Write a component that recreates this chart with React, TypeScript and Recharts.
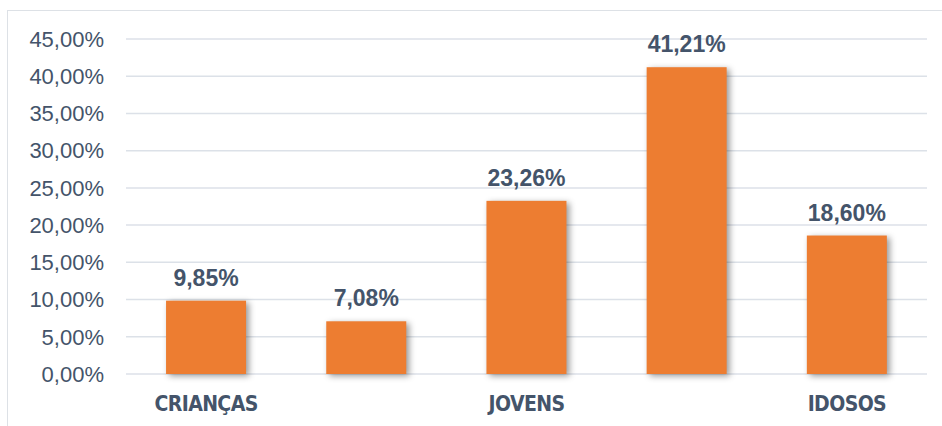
import { BarChart, Bar, XAxis, YAxis, CartesianGrid, LabelList } from 'recharts';

const categories = ['CRIANÇAS', '', 'JOVENS', '', 'IDOSOS'];
const shares = [9.85, 7.08, 23.26, 41.21, 18.6];
const yTicks = [0, 5, 10, 15, 20, 25, 30, 35, 40, 45];

const data = categories.map((name, i) => ({ name, value: shares[i] }));

const TEXT = '#44546A';
const BAR = '#ED7D31';

function pct(v: number) {
  return `${Number(v).toFixed(2).replace('.', ',')}%`;
}

function ShadowBar(props: any) {
  const { x, y, width, height } = props;
  return (
    <rect
      x={x}
      y={y}
      width={width}
      height={height}
      fill={BAR}
      style={{ filter: 'drop-shadow(3px 2px 3px rgba(0,0,0,0.4))' }}
    />
  );
}

export default function App() {
  return (
    <div style={{ position: 'absolute', left: 0, top: 0, width: 942, height: 426, overflow: 'hidden', background: '#fff' }}>
      <div
        style={{
          position: 'absolute',
          left: 7,
          top: 10,
          width: 960,
          height: 440,
          border: '1px solid #DDE1E6',
        }}
      />
      <BarChart
        width={942}
        height={426}
        data={data}
        margin={{ top: 39, right: 15, left: 0, bottom: 22 }}
        barCategoryGap="25%"
        style={{ position: 'absolute', left: 0, top: 0 }}
      >
        <CartesianGrid vertical={false} stroke="#DCE1E8" strokeWidth={1.5} />
        <XAxis
          dataKey="name"
          axisLine={false}
          tickLine={false}
          tickMargin={16}
          height={30}
          tick={{
            fill: TEXT,
            fontSize: 21,
            fontWeight: 700,
            letterSpacing: -0.6,
            fontFamily: '"Liberation Sans Narrow", "DejaVu Sans Condensed", sans-serif',
          }}
        />
        <YAxis
          domain={[0, 45]}
          ticks={yTicks}
          width={126}
          axisLine={false}
          tickLine={false}
          tickMargin={16}
          tickFormatter={pct}
          tick={{ fill: TEXT, fontSize: 22, fontFamily: '"Liberation Sans", Arial, sans-serif' }}
        />
        <Bar dataKey="value" fill={BAR} shape={ShadowBar} isAnimationActive={false}>
          <LabelList
            dataKey="value"
            position="top"
            offset={15}
            formatter={(v: any) => pct(v)}
            style={{ fill: TEXT, fontSize: 23, fontWeight: 700, fontFamily: '"Liberation Sans", Arial, sans-serif' }}
          />
        </Bar>
      </BarChart>
    </div>
  );
}
